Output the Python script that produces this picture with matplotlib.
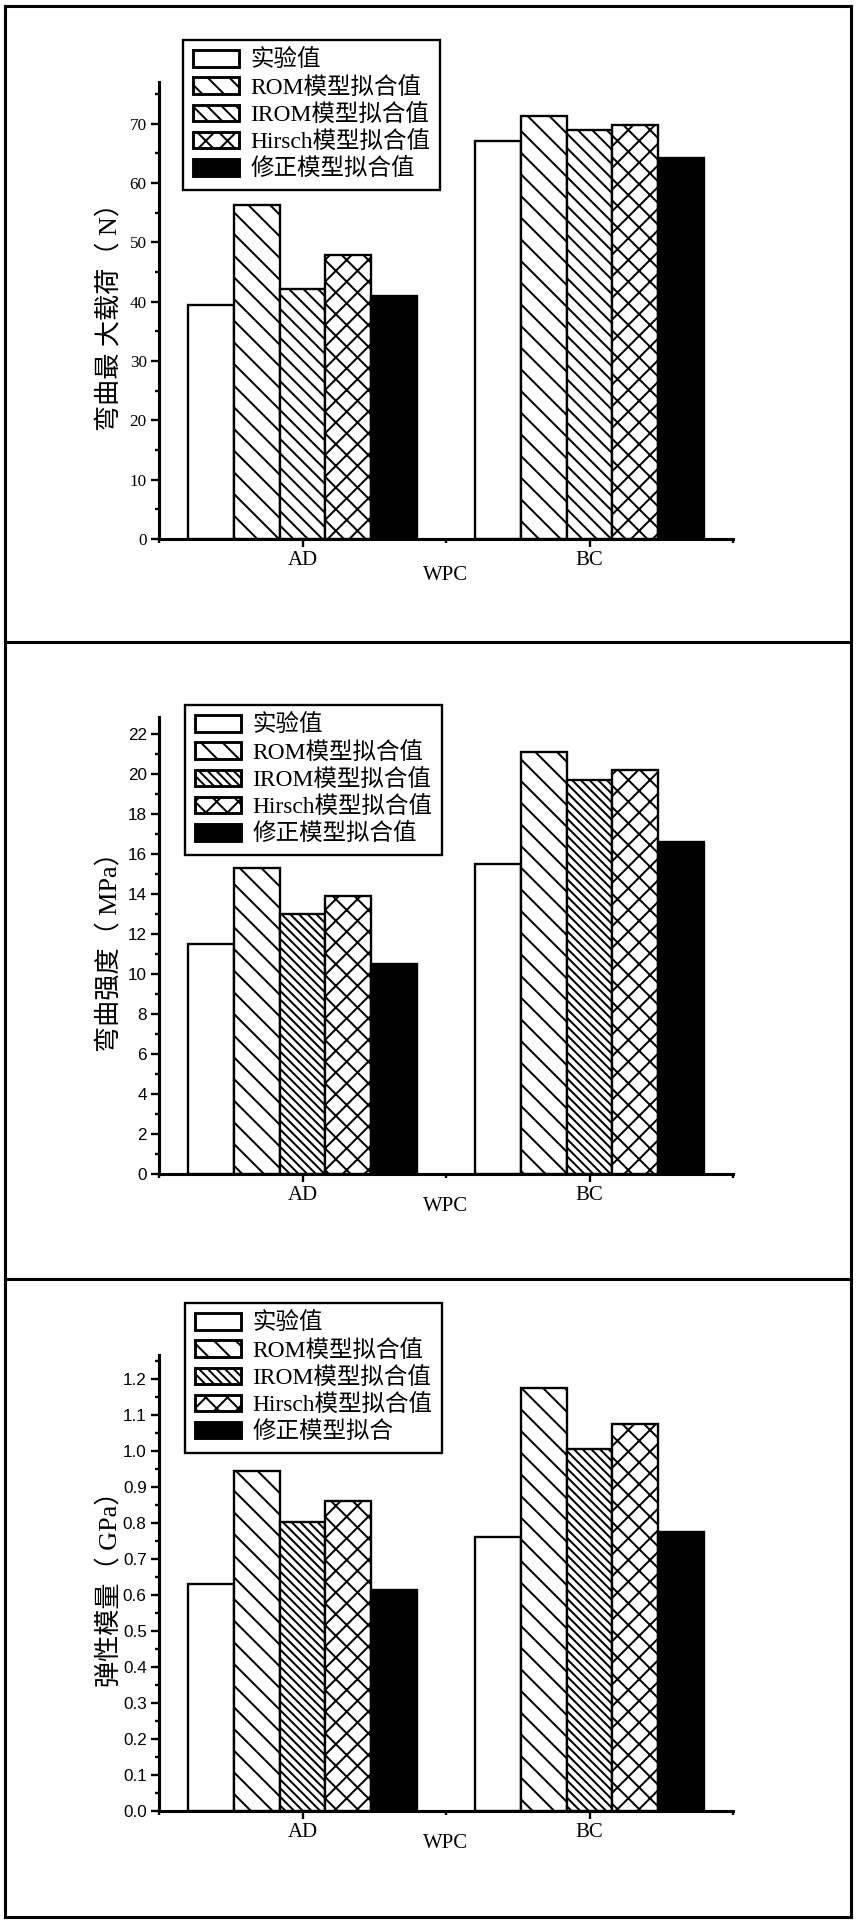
import matplotlib
matplotlib.use('Agg')
import matplotlib.pyplot as plt
from matplotlib.patches import Patch
from matplotlib.lines import Line2D
from matplotlib.ticker import MultipleLocator, FixedLocator, FormatStrFormatter

plt.rcParams['hatch.linewidth'] = 1.1
plt.rcParams['font.family'] = ['Liberation Serif', 'Noto Sans CJK SC']

# data
groups = ['AD', 'BC']
series = ['实验值', 'ROM模型拟合值', 'IROM模型拟合值', 'Hirsch模型拟合值', '修正模型拟合值']
series3 = ['实验值', 'ROM模型拟合值', 'IROM模型拟合值', 'Hirsch模型拟合值', '修正模型拟合']

load_exp = [39.4, 67.1]
load_rom = [56.2, 71.2]
load_irom = [42.2, 68.9]
load_hirsch = [47.9, 69.7]
load_mod = [40.9, 64.2]

strength_exp = [11.5, 15.5]
strength_rom = [15.3, 21.1]
strength_irom = [13.0, 19.7]
strength_hirsch = [13.9, 20.2]
strength_mod = [10.5, 16.6]

modulus_exp = [0.630, 0.761]
modulus_rom = [0.945, 1.176]
modulus_irom = [0.803, 1.007]
modulus_hirsch = [0.861, 1.074]
modulus_mod = [0.615, 0.774]

DPI = 130
W, H = 856, 1923
fig = plt.figure(figsize=(W / DPI, H / DPI), dpi=DPI)

# panel frames
lw_frame = 1.7
def fline(x0, y0, x1, y1):
    fig.add_artist(Line2D([x0 / W, x1 / W], [1 - y0 / H, 1 - y1 / H],
                          color='black', lw=lw_frame, transform=fig.transFigure,
                          solid_capstyle='projecting'))
fline(5, 6, 851, 6)
fline(5, 1917, 851, 1917)
fline(5, 6, 5, 1917)
fline(851, 6, 851, 1917)
fline(5, 642, 851, 642)
fline(5, 1279, 851, 1279)

sans_ticks = ['Liberation Sans', 'DejaVu Sans']
serif = ['Liberation Serif', 'Noto Sans CJK SC']
cjk = ['Liberation Serif', 'Noto Sans CJK SC']


def panel(rect, vals, labels, ylim, major, minor, ylabel, irom_hatch, tickfont, fmt,
          leg_xy, xlab_y):
    ax = fig.add_axes(rect)
    hatches = [None, '\\\\', irom_hatch, 'xx', None]
    faces = ['white', 'white', 'white', 'white', 'black']
    width = 0.16
    handles = []
    for i, v in enumerate(vals):
        xs = [g + 1 + (i - 2) * width for g in range(len(groups))]
        ax.bar(xs, v, width=width, color=faces[i], edgecolor='black',
               hatch=hatches[i], linewidth=1.3, zorder=2)
        handles.append(Patch(facecolor=faces[i], edgecolor='black',
                             hatch=hatches[i], linewidth=1.6))
    ax.set_xlim(0.5, 2.5)
    ax.set_ylim(*ylim)
    ax.set_xticks([1, 2])
    ax.set_xticklabels(groups, fontsize=11.5, family=serif)
    ax.xaxis.set_minor_locator(FixedLocator([0.5, 1.5, 2.5]))
    ax.yaxis.set_major_locator(MultipleLocator(major))
    ax.yaxis.set_minor_locator(MultipleLocator(minor))
    ax.yaxis.set_major_formatter(FormatStrFormatter(fmt))
    for lab in ax.get_yticklabels():
        lab.set_family(tickfont)
        lab.set_fontsize(9.5)
    for s in ['top', 'right']:
        ax.spines[s].set_visible(False)
    for s in ['left', 'bottom']:
        ax.spines[s].set_linewidth(1.7)
    ax.tick_params(which='major', direction='out', length=4.3, width=1.3, pad=2.5)
    ax.tick_params(which='minor', direction='out', length=2.3, width=1.3)
    ax.set_ylabel(ylabel, fontsize=14.5, family=cjk)
    ax.yaxis.set_label_coords(-0.066, 0.5)
    ax.set_xlabel('WPC', fontsize=11.5, family=serif)
    ax.xaxis.set_label_coords(0.5, xlab_y)
    leg = ax.legend(handles, labels, loc='upper left',
                    bbox_to_anchor=(leg_xy[0] / W, 1 - leg_xy[1] / H),
                    bbox_transform=fig.transFigure, borderaxespad=0,
                    prop={'family': cjk, 'size': 13}, fancybox=False,
                    framealpha=1, edgecolor='black', handlelength=1.95,
                    handleheight=0.72, handletextpad=0.5, labelspacing=0.22,
                    borderpad=0.42)
    leg.get_frame().set_linewidth(1.3)
    return ax


panel([159 / W, 1 - 539 / H, 574 / W, 457 / H],
      [load_exp, load_rom, load_irom, load_hirsch, load_mod], series,
      (0, 77), 10, 5, '弯曲最 大载荷（ N）', '\\\\\\', serif, '%d',
      (183, 40), -0.058)

panel([159 / W, 1 - 1174 / H, 574 / W, 456.5 / H],
      [strength_exp, strength_rom, strength_irom, strength_hirsch, strength_mod], series,
      (0, 22.8), 2, 1, '弯曲强度（ MPa）', '\\\\\\\\\\', sans_ticks, '%d',
      (185, 705), -0.050)

panel([159 / W, 1 - 1811 / H, 574 / W, 456 / H],
      [modulus_exp, modulus_rom, modulus_irom, modulus_hirsch, modulus_mod], series3,
      (0, 1.267), 0.1, 0.05, '弹性模量（ GPa）', '\\\\\\\\\\', sans_ticks, '%.1f',
      (185, 1303), -0.050)

fig.savefig('out.png', dpi=DPI, facecolor='white')
